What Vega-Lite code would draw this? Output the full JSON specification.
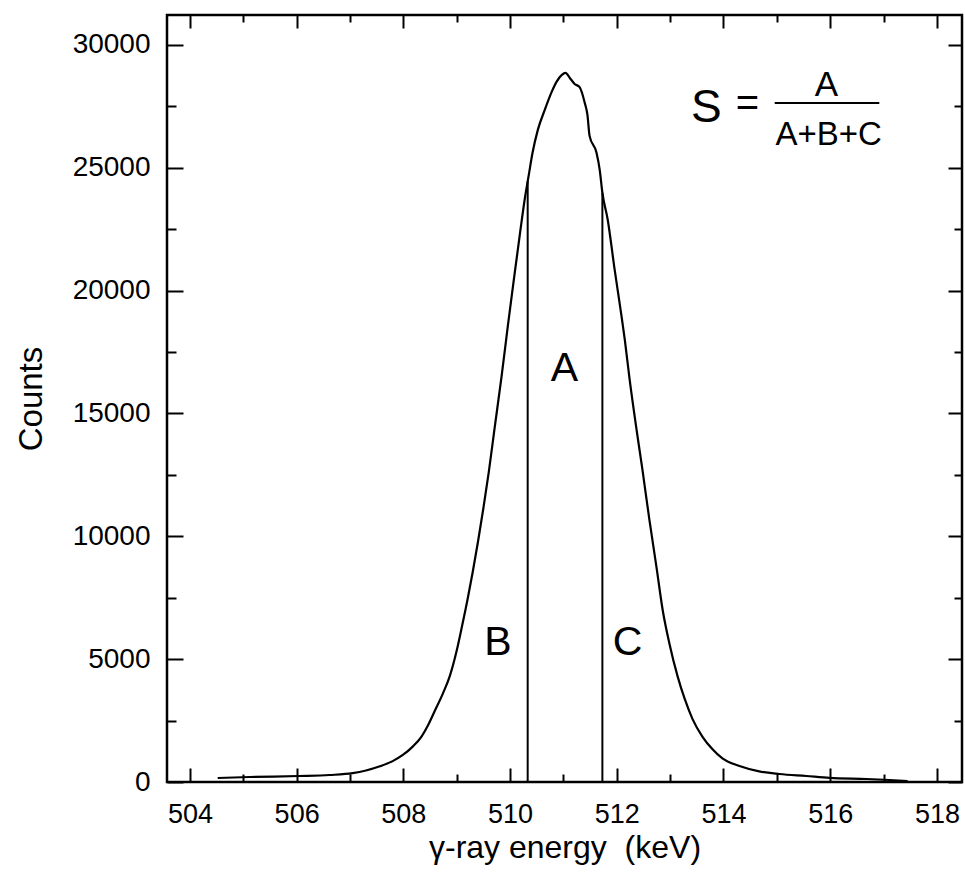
{
  "$schema": "https://vega.github.io/schema/vega-lite/v6.json",
  "width": 795,
  "height": 767,
  "autosize": {"type": "none"},
  "padding": {"left": 167, "top": 15, "right": 3, "bottom": 91},
  "background": "white",
  "config": {
    "view": {"stroke": "black", "strokeWidth": 2.5},
    "font": "Liberation Sans",
    "axis": {"grid": false, "domain": false, "tickColor": "black", "tickWidth": 2, "labelColor": "black", "titleColor": "black", "labelFont": "Liberation Sans", "titleFont": "Liberation Sans", "titleFontWeight": "normal"}
  },
  "datasets": {
    "curve": [
      {"E": 504.52, "C": 163}, {"E": 505.12, "C": 203}, {"E": 506.04, "C": 244}, {"E": 506.62, "C": 285},
      {"E": 507.05, "C": 360}, {"E": 507.30, "C": 470}, {"E": 507.56, "C": 640}, {"E": 507.80, "C": 850},
      {"E": 507.99, "C": 1100}, {"E": 508.18, "C": 1450}, {"E": 508.34, "C": 1850}, {"E": 508.46, "C": 2300},
      {"E": 508.59, "C": 2900}, {"E": 508.74, "C": 3600}, {"E": 508.87, "C": 4309}, {"E": 509.00, "C": 5350},
      {"E": 509.10, "C": 6350}, {"E": 509.20, "C": 7400}, {"E": 509.30, "C": 8550}, {"E": 509.40, "C": 9800},
      {"E": 509.50, "C": 11150}, {"E": 509.60, "C": 12600}, {"E": 509.71, "C": 14400}, {"E": 509.84, "C": 16500},
      {"E": 509.96, "C": 18600}, {"E": 510.08, "C": 20600}, {"E": 510.19, "C": 22400}, {"E": 510.28, "C": 23800},
      {"E": 510.35, "C": 24700}, {"E": 510.42, "C": 25600}, {"E": 510.52, "C": 26544}, {"E": 510.65, "C": 27357},
      {"E": 510.78, "C": 28089}, {"E": 510.87, "C": 28496}, {"E": 510.97, "C": 28780}, {"E": 511.04, "C": 28862},
      {"E": 511.12, "C": 28658}, {"E": 511.21, "C": 28414}, {"E": 511.30, "C": 28292}, {"E": 511.40, "C": 27642},
      {"E": 511.45, "C": 27154}, {"E": 511.49, "C": 26300}, {"E": 511.62, "C": 25610}, {"E": 511.68, "C": 24919},
      {"E": 511.73, "C": 23984}, {"E": 511.83, "C": 22886}, {"E": 511.96, "C": 20853}, {"E": 512.09, "C": 18943},
      {"E": 512.15, "C": 18008}, {"E": 512.24, "C": 16400}, {"E": 512.37, "C": 14349}, {"E": 512.48, "C": 12723},
      {"E": 512.61, "C": 10691}, {"E": 512.75, "C": 8658}, {"E": 512.86, "C": 7000}, {"E": 512.99, "C": 5600},
      {"E": 513.14, "C": 4300}, {"E": 513.27, "C": 3400}, {"E": 513.42, "C": 2561}, {"E": 513.61, "C": 1829},
      {"E": 513.79, "C": 1341}, {"E": 513.98, "C": 960}, {"E": 514.30, "C": 650}, {"E": 514.67, "C": 430},
      {"E": 515.05, "C": 325}, {"E": 515.55, "C": 244}, {"E": 515.99, "C": 170}, {"E": 516.68, "C": 122},
      {"E": 517.11, "C": 81}, {"E": 517.45, "C": 41}
    ],
    "cuts": [
      {"E": 510.33, "C0": 0, "C1": 24450},
      {"E": 511.73, "C0": 0, "C1": 23984}
    ],
    "letters": [
      {"E": 511.02, "C": 16830, "t": "A"},
      {"E": 509.77, "C": 5650, "t": "B"},
      {"E": 512.20, "C": 5650, "t": "C"}
    ],
    "formula": [
      {"E": 513.68, "C": 27439, "t": "S", "s": 46},
      {"E": 514.45, "C": 27600, "t": "=", "s": 40},
      {"E": 515.93, "C": 28374, "t": "A", "s": 35},
      {"E": 515.97, "C": 26341, "t": "A+B+C", "s": 33}
    ],
    "frac": [
      {"E0": 514.96, "E1": 516.92, "C": 27642}
    ]
  },
  "layer": [
    {
      "data": {"name": "curve"},
      "mark": {"type": "line", "color": "black", "strokeWidth": 2.2, "interpolate": "monotone"},
      "encoding": {
        "x": {
          "field": "E", "type": "quantitative",
          "scale": {"domain": [503.57, 518.47], "nice": false, "zero": false},
          "axis": {
            "orient": "bottom", "ticks": false,
            "title": "γ-ray energy \u00a0(keV)",
            "titleFontSize": 32, "titleBaseline": "alphabetic", "titleY": 75,
            "values": [504, 506, 508, 510, 512, 514, 516, 518],
            "labelFontSize": 27, "labelPadding": 19
          }
        },
        "y": {
          "field": "C", "type": "quantitative",
          "scale": {"domain": [0, 31220], "nice": false},
          "axis": {
            "orient": "left", "ticks": false,
            "title": "Counts",
            "titleFontSize": 33, "titleBaseline": "alphabetic", "titleX": -126,
            "values": [0, 5000, 10000, 15000, 20000, 25000, 30000],
            "format": "d",
            "labelFontSize": 28, "labelPadding": 17
          }
        }
      }
    },
    {
      "data": {"name": "cuts"},
      "mark": {"type": "rule", "color": "black", "strokeWidth": 2},
      "encoding": {
        "x": {
          "field": "E", "type": "quantitative",
          "axis": {"orient": "bottom", "title": null, "labels": false, "values": [504, 506, 508, 510, 512, 514, 516, 518], "offset": -14, "tickSize": 14}
        },
        "y": {
          "field": "C0", "type": "quantitative",
          "axis": {"orient": "left", "title": null, "labels": false, "values": [0, 5000, 10000, 15000, 20000, 25000, 30000], "offset": -16, "tickSize": 16}
        },
        "y2": {"field": "C1"}
      }
    },
    {
      "data": {"name": "letters"},
      "mark": {"type": "text", "color": "black", "font": "Liberation Sans", "fontSize": 41, "align": "center", "baseline": "middle"},
      "encoding": {
        "x": {
          "field": "E", "type": "quantitative",
          "axis": {"orient": "bottom", "title": null, "labels": false, "values": [505, 507, 509, 511, 513, 515, 517], "offset": -8, "tickSize": 8}
        },
        "y": {
          "field": "C", "type": "quantitative",
          "axis": {"orient": "left", "title": null, "labels": false, "values": [2500, 7500, 12500, 17500, 22500, 27500], "offset": -9, "tickSize": 9}
        },
        "text": {"field": "t"}
      }
    },
    {
      "data": {"name": "formula"},
      "mark": {"type": "text", "color": "black", "font": "Liberation Sans", "align": "center", "baseline": "middle"},
      "encoding": {
        "x": {
          "field": "E", "type": "quantitative",
          "axis": {"orient": "top", "title": null, "labels": false, "values": [504, 506, 508, 510, 512, 514, 516, 518], "offset": -13, "tickSize": 13}
        },
        "y": {
          "field": "C", "type": "quantitative",
          "axis": {"orient": "right", "title": null, "labels": false, "values": [0, 5000, 10000, 15000, 20000, 25000, 30000], "offset": -14, "tickSize": 14}
        },
        "text": {"field": "t"},
        "size": {"field": "s", "type": "quantitative", "scale": null}
      }
    },
    {
      "data": {"name": "frac"},
      "mark": {"type": "rule", "color": "black", "strokeWidth": 2},
      "encoding": {
        "x": {
          "field": "E0", "type": "quantitative",
          "axis": {"orient": "top", "title": null, "labels": false, "values": [505, 507, 509, 511, 513, 515, 517], "offset": -7, "tickSize": 7}
        },
        "x2": {"field": "E1"},
        "y": {
          "field": "C", "type": "quantitative",
          "axis": {"orient": "right", "title": null, "labels": false, "values": [2500, 7500, 12500, 17500, 22500, 27500], "offset": -8, "tickSize": 8}
        }
      }
    }
  ],
  "resolve": {"axis": {"x": "independent", "y": "independent"}}
}
